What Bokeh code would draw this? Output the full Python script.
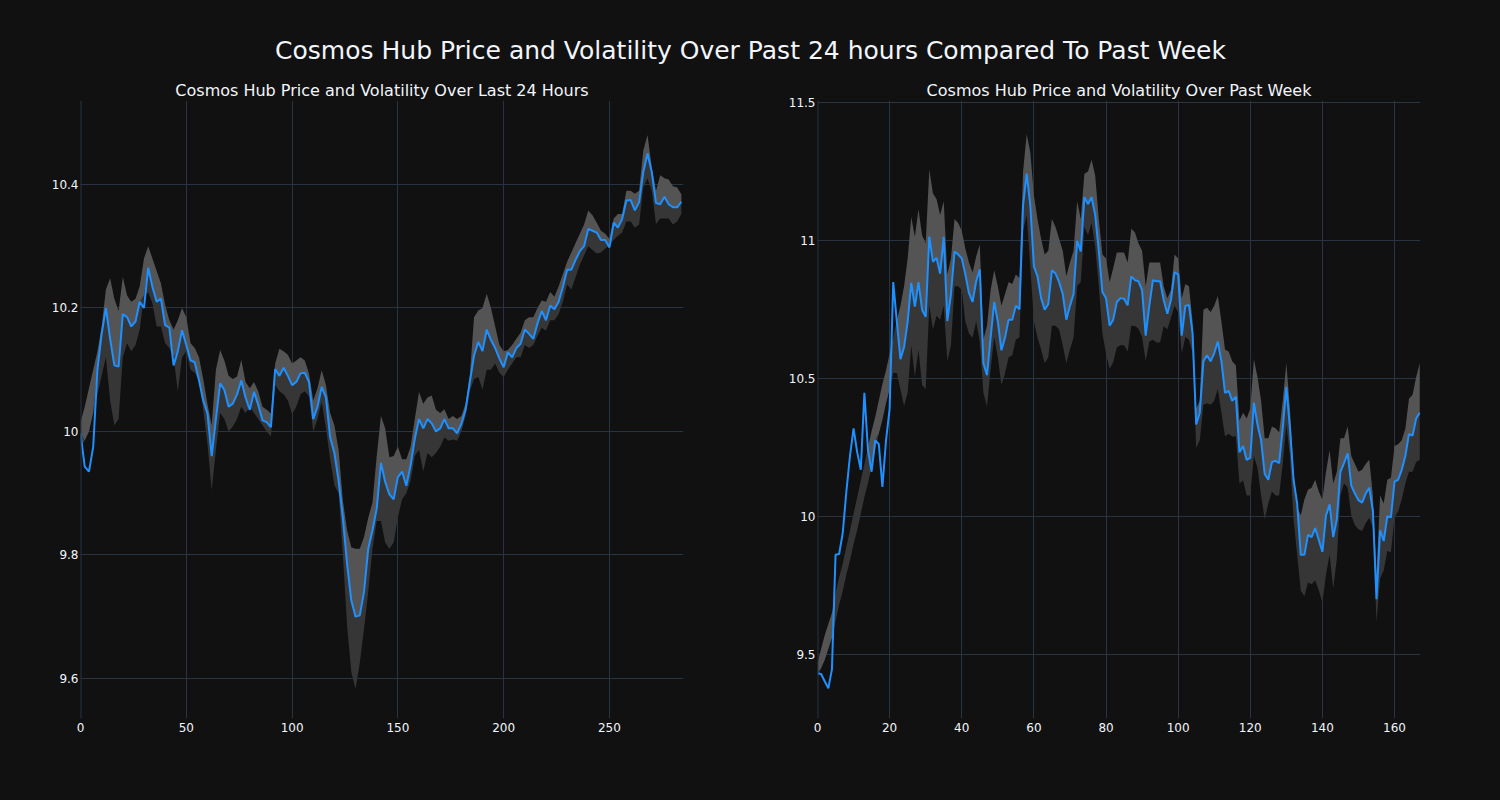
import numpy as np
from bokeh.plotting import figure
from bokeh.layouts import column, row
from bokeh.models import Range1d, FixedTicker, CustomJSTickFormatter, Span, Label, ColumnDataSource
from bokeh.embed import file_html
from bokeh.resources import INLINE

# ---------------- data ----------------
main_title = "Cosmos Hub Price and Volatility Over Past 24 hours Compared To Past Week"
left_title = "Cosmos Hub Price and Volatility Over Last 24 Hours"
right_title = "Cosmos Hub Price and Volatility Over Past Week"

left_x = [0, 2, 4, 6, 8, 10, 12, 14, 16, 18,
          20, 22, 24, 26, 28, 30, 32, 34, 36, 38,
          40, 42, 44, 46, 48, 50, 52, 54, 56, 58,
          60, 62, 64, 66, 68, 70, 72, 74, 76, 78,
          80, 82, 84, 86, 88, 90, 92, 94, 96, 98,
          100, 102, 104, 106, 108, 110, 112, 114, 116, 118,
          120, 122, 124, 126, 128, 130, 132, 134, 136, 138,
          140, 142, 144, 146, 148, 150, 152, 154, 156, 158,
          160, 162, 164, 166, 168, 170, 172, 174, 176, 178,
          180, 182, 184, 186, 188, 190, 192, 194, 196, 198,
          200, 202, 204, 206, 208, 210, 212, 214, 216, 218,
          220, 222, 224, 226, 228, 230, 232, 234, 236, 238,
          240, 242, 244, 246, 248, 250, 252, 254, 256, 258,
          260, 262, 264, 266, 268, 270, 272, 274, 276, 278,
          280, 282, 284]

left_price = [9.997, 9.943, 9.935, 9.975, 10.10, 10.158, 10.20, 10.15, 10.107, 10.105,
              10.19, 10.185, 10.17, 10.178, 10.21, 10.20, 10.265, 10.234, 10.21, 10.215,
              10.172, 10.168, 10.107, 10.13, 10.164, 10.14, 10.115, 10.112, 10.083, 10.05,
              10.029, 9.96, 10.02, 10.078, 10.067, 10.04, 10.045, 10.06, 10.083, 10.055,
              10.035, 10.064, 10.043, 10.018, 10.015, 10.007, 10.101, 10.09, 10.103, 10.09,
              10.075, 10.08, 10.094, 10.095, 10.08, 10.02, 10.04, 10.072, 10.055, 9.99,
              9.965, 9.92, 9.86, 9.785, 9.726, 9.70, 9.702, 9.74, 9.81, 9.84,
              9.875, 9.949, 9.918, 9.898, 9.89, 9.926, 9.935, 9.912, 9.945, 9.988,
              10.02, 10.005, 10.02, 10.013, 10.0, 10.005, 10.02, 10.005, 10.005, 9.997,
              10.012, 10.035, 10.08, 10.123, 10.145, 10.13, 10.165, 10.148, 10.135, 10.118,
              10.104, 10.128, 10.12, 10.135, 10.142, 10.165, 10.158, 10.15, 10.175, 10.195,
              10.18, 10.204, 10.198, 10.21, 10.234, 10.262, 10.262, 10.278, 10.292, 10.3,
              10.328, 10.325, 10.322, 10.31, 10.31, 10.298, 10.338, 10.33, 10.344, 10.374,
              10.375, 10.358, 10.371, 10.42, 10.45, 10.42, 10.37, 10.368, 10.38, 10.368,
              10.363, 10.363, 10.372]

left_upper = [10.015, 10.04, 10.07, 10.10, 10.13, 10.17, 10.23, 10.248, 10.215, 10.195,
              10.25, 10.22, 10.21, 10.215, 10.235, 10.28, 10.30, 10.28, 10.26, 10.24,
              10.205, 10.18, 10.165, 10.18, 10.2, 10.185, 10.143, 10.135, 10.12, 10.085,
              10.045, 10.01, 10.1, 10.132, 10.115, 10.09, 10.085, 10.089, 10.116, 10.08,
              10.07, 10.08, 10.065, 10.04, 10.035, 10.029, 10.11, 10.134, 10.13, 10.124,
              10.11, 10.115, 10.12, 10.115, 10.094, 10.05, 10.07, 10.099, 10.075, 10.03,
              10.01, 9.97, 9.888, 9.84, 9.812, 9.81, 9.81, 9.829, 9.86, 9.885,
              9.96, 10.025, 10.005, 9.958, 9.96, 9.975, 9.955, 9.955, 9.975, 10.02,
              10.064, 10.045, 10.055, 10.058, 10.035, 10.03, 10.036, 10.02, 10.025, 10.02,
              10.025, 10.045, 10.09, 10.185, 10.196, 10.2, 10.223, 10.2, 10.17, 10.14,
              10.13, 10.132, 10.14, 10.15, 10.16, 10.18, 10.185, 10.185, 10.2, 10.212,
              10.21, 10.226, 10.218, 10.235, 10.255, 10.275, 10.29, 10.305, 10.32, 10.335,
              10.358, 10.35, 10.338, 10.325, 10.32, 10.312, 10.345, 10.352, 10.352, 10.39,
              10.39, 10.385, 10.39, 10.455, 10.48, 10.428, 10.39, 10.415, 10.41, 10.408,
              10.397, 10.395, 10.384]

left_lower = [9.975, 9.985, 10.0, 10.03, 10.06, 10.09, 10.12, 10.05, 10.01, 10.02,
              10.12, 10.143, 10.13, 10.14, 10.165, 10.22, 10.225, 10.207, 10.17, 10.17,
              10.143, 10.135, 10.12, 10.065, 10.12, 10.13, 10.1, 10.095, 10.083, 10.035,
              9.98, 9.905, 9.97, 10.03, 10.02, 10.0, 10.008, 10.02, 10.04, 10.03,
              10.04, 10.03, 10.02, 10.01, 10.0, 9.992, 10.075, 10.065, 10.06, 10.05,
              10.028, 10.04, 10.06, 10.065, 10.057, 10.0, 10.02, 10.048, 10.005, 9.955,
              9.913, 9.9, 9.8, 9.685, 9.61, 9.583, 9.625, 9.68, 9.74, 9.81,
              9.855, 9.855, 9.82, 9.81, 9.82, 9.861, 9.89, 9.9, 9.92, 9.96,
              9.97, 9.935, 9.965, 9.958, 9.965, 9.975, 9.99, 9.985, 9.987, 9.985,
              10.0, 10.025, 10.065, 10.085, 10.088, 10.068, 10.1, 10.1, 10.11, 10.095,
              10.088, 10.1, 10.11, 10.12, 10.12, 10.14, 10.135, 10.14, 10.155, 10.168,
              10.163, 10.18, 10.18, 10.19, 10.21, 10.238, 10.23, 10.25, 10.27, 10.285,
              10.3, 10.294, 10.288, 10.29, 10.296, 10.302, 10.31, 10.317, 10.322, 10.34,
              10.34, 10.33, 10.335, 10.395, 10.41, 10.39, 10.336, 10.345, 10.345, 10.345,
              10.335, 10.34, 10.352]

right_x = [0, 1, 2, 3, 4, 5, 6, 7, 8, 9,
           10, 11, 12, 13, 14, 15, 16, 17, 18, 19,
           20, 21, 22, 23, 24, 25, 26, 27, 28, 29,
           30, 31, 32, 33, 34, 35, 36, 37, 38, 39,
           40, 41, 42, 43, 44, 45, 46, 47, 48, 49,
           50, 51, 52, 53, 54, 55, 56, 57, 58, 59,
           60, 61, 62, 63, 64, 65, 66, 67, 68, 69,
           70, 71, 72, 73, 74, 75, 76, 77, 78, 79,
           80, 81, 82, 83, 84, 85, 86, 87, 88, 89,
           90, 91, 92, 93, 94, 95, 96, 97, 98, 99,
           100, 101, 102, 103, 104, 105, 106, 107, 108, 109,
           110, 111, 112, 113, 114, 115, 116, 117, 118, 119,
           120, 121, 122, 123, 124, 125, 126, 127, 128, 129,
           130, 131, 132, 133, 134, 135, 136, 137, 138, 139,
           140, 141, 142, 143, 144, 145, 146, 147, 148, 149,
           150, 151, 152, 153, 154, 155, 156, 157, 158, 159,
           160, 161, 162, 163, 164, 165, 166, 167]

right_price = [9.432, 9.429, 9.403, 9.377, 9.446, 9.861, 9.864, 9.94, 10.09, 10.219,
               10.319, 10.233, 10.169, 10.448, 10.24, 10.162, 10.276, 10.262, 10.107, 10.276,
               10.39, 10.849, 10.706, 10.57, 10.613, 10.706, 10.846, 10.76, 10.849, 10.749,
               10.723, 11.014, 10.923, 10.937, 10.88, 11.013, 10.708, 10.805, 10.96, 10.949,
               10.935, 10.877, 10.809, 10.777, 10.852, 10.895, 10.555, 10.512, 10.648, 10.777,
               10.706, 10.602, 10.648, 10.713, 10.713, 10.763, 10.751, 11.128, 11.242, 11.128,
               10.906, 10.87, 10.791, 10.749, 10.77, 10.892, 10.88, 10.849, 10.806, 10.713,
               10.763, 10.806, 10.999, 10.96, 11.157, 11.132, 11.157, 11.092, 10.963, 10.813,
               10.791, 10.691, 10.713, 10.777, 10.791, 10.789, 10.765, 10.87, 10.856, 10.852,
               10.82, 10.655, 10.763, 10.856, 10.852, 10.852, 10.784, 10.734, 10.784, 10.884,
               10.877, 10.655, 10.763, 10.766, 10.663, 10.333, 10.376, 10.562, 10.584, 10.562,
               10.591, 10.634, 10.562, 10.448, 10.455, 10.419, 10.434, 10.233, 10.255, 10.205,
               10.212, 10.412, 10.333, 10.276, 10.154, 10.133, 10.197, 10.202, 10.193, 10.319,
               10.469, 10.319, 10.133, 10.047, 9.861, 9.861, 9.933, 9.925, 9.958, 9.915,
               9.872, 10.004, 10.044, 9.925, 9.99, 10.162, 10.193, 10.229, 10.112, 10.083,
               10.059, 10.05, 10.083, 10.104, 10.019, 9.70, 9.95, 9.911, 10.001, 9.997,
               10.126, 10.133, 10.169, 10.219, 10.298, 10.293, 10.355, 10.376]

right_upper = [9.47, 9.52, 9.57, 9.61, 9.65, 9.72, 9.78, 9.83, 9.89, 9.95,
               10.01, 10.07, 10.13, 10.19, 10.25, 10.31, 10.36, 10.42, 10.48, 10.53,
               10.59, 10.65, 10.71, 10.763, 10.834, 10.935, 11.085, 11.013, 11.113, 11.02,
               10.99, 11.257, 11.171, 11.15, 11.092, 11.142, 10.877, 10.935, 11.078, 11.063,
               11.035, 10.97, 10.92, 10.884, 10.942, 10.985, 10.641, 10.691, 10.82, 10.892,
               10.834, 10.763, 10.806, 10.849, 10.842, 10.877, 10.863, 11.25, 11.385, 11.32,
               11.164, 11.078, 11.006, 10.949, 10.963, 11.078, 11.049, 11.006, 10.963, 10.87,
               10.92, 10.963, 11.142, 11.078, 11.242, 11.25, 11.292, 11.235, 11.078, 10.949,
               10.935, 10.849, 10.9, 10.956, 10.956, 10.956, 10.92, 11.042, 11.03, 10.99,
               10.963, 10.834, 10.92, 10.92, 10.92, 10.92, 10.834, 10.791, 10.82, 10.949,
               10.935, 10.791, 10.842, 10.834, 10.706, 10.39, 10.419, 10.749, 10.756, 10.741,
               10.763, 10.799, 10.706, 10.605, 10.598, 10.562, 10.548, 10.348, 10.376, 10.355,
               10.391, 10.57, 10.505, 10.419, 10.283, 10.283, 10.326, 10.32, 10.305, 10.419,
               10.555, 10.39, 10.162, 10.033, 10.004, 10.061, 10.097, 10.104, 10.133, 10.09,
               10.061, 10.162, 10.24, 10.119, 10.162, 10.283, 10.283, 10.326, 10.219, 10.19,
               10.162, 10.169, 10.19, 10.205, 10.076, 9.79, 10.076, 10.047, 10.133, 10.14,
               10.255, 10.262, 10.276, 10.319, 10.426, 10.441, 10.505, 10.555]

right_lower = [9.42, 9.45, 9.48, 9.52, 9.56, 9.62, 9.68, 9.73, 9.79, 9.84,
               9.90, 9.95, 10.01, 10.07, 10.12, 10.18, 10.24, 10.30, 10.35, 10.41,
               10.46, 10.52, 10.52, 10.46, 10.40, 10.448, 10.62, 10.505, 10.605, 10.476,
               10.462, 10.763, 10.677, 10.727, 10.713, 10.763, 10.562, 10.62, 10.834, 10.834,
               10.82, 10.706, 10.663, 10.648, 10.706, 10.634, 10.448, 10.398, 10.534, 10.648,
               10.577, 10.476, 10.519, 10.577, 10.584, 10.641, 10.648, 11.035, 11.092, 10.906,
               10.706, 10.648, 10.605, 10.555, 10.577, 10.691, 10.691, 10.677, 10.62, 10.555,
               10.605, 10.648, 10.834, 10.849, 11.049, 11.02, 11.063, 10.977, 10.834, 10.663,
               10.591, 10.534, 10.56, 10.612, 10.62, 10.62, 10.598, 10.691, 10.69, 10.68,
               10.65, 10.562, 10.634, 10.64, 10.63, 10.63, 10.69, 10.677, 10.72, 10.763,
               10.74, 10.591, 10.65, 10.64, 10.591, 10.248, 10.276, 10.405, 10.41, 10.405,
               10.419, 10.462, 10.376, 10.29, 10.3, 10.29, 10.29, 10.119, 10.13, 10.076,
               10.076, 10.219, 10.176, 10.076, 9.99, 10.047, 10.09, 10.076, 10.076, 10.19,
               10.333, 10.219, 9.99, 9.861, 9.732, 9.711, 9.761, 9.754, 9.768, 9.732,
               9.689, 9.79, 9.861, 9.739, 9.847, 10.076, 10.119, 10.105, 10.004, 9.968,
               9.954, 9.947, 9.975, 9.995, 9.96, 9.618, 9.775, 9.804, 9.875, 9.87,
               9.997, 10.018, 10.061, 10.119, 10.162, 10.162, 10.197, 10.205]

left_xticks = [0, 50, 100, 150, 200, 250]
left_yticks = [9.6, 9.8, 10.0, 10.2, 10.4]
right_xticks = [0, 20, 40, 60, 80, 100, 120, 140, 160]
right_yticks = [9.5, 10.0, 10.5, 11.0, 11.5]

# ---------------- style ----------------
BG = "#111111"
GRID = "#283442"
TXT = "#f2f5fa"
FONT = "DejaVu Sans"
LINE = "#1e90ff"
LIGHT = "#545454"
DARK = "#363636"

fmt_code = "return (Math.round(tick * 1000) / 1000).toString();"


def make_panel(title, xs, price, upper, lower, xr, yr, xticks, yticks, ml, mr):
    p = figure(width=750, height=727, x_range=Range1d(*xr), y_range=Range1d(*yr),
               output_backend="svg", toolbar_location=None,
               min_border_left=ml, min_border_right=mr,
               min_border_top=27, min_border_bottom=82)
    p.background_fill_color = BG
    p.border_fill_color = BG
    p.outline_line_color = None

    p.title.text = title
    p.title.align = "center"
    p.title.text_font = FONT
    p.title.text_font_size = "16px"
    p.title.text_font_style = "normal"
    p.title.text_color = TXT
    p.title.standoff = 2

    P = np.array(price)
    U = np.array(upper)
    L = np.array(lower)
    mid = np.minimum(np.maximum(P, L), U)
    src = ColumnDataSource(dict(x=xs, price=P, upper=U, lower=L, mid=mid))

    p.varea(x="x", y1="lower", y2="mid", source=src, fill_color=DARK, fill_alpha=1.0)
    p.varea(x="x", y1="mid", y2="upper", source=src, fill_color=LIGHT, fill_alpha=1.0)
    p.line(x="x", y="price", source=src, line_color=LINE, line_width=2)

    p.xaxis.ticker = FixedTicker(ticks=xticks)
    p.yaxis.ticker = FixedTicker(ticks=yticks)
    for ax in (p.xaxis, p.yaxis):
        ax.formatter = CustomJSTickFormatter(code=fmt_code)
        ax.axis_line_color = None
        ax.major_tick_line_color = None
        ax.minor_tick_line_color = None
        ax.major_tick_out = 0
        ax.major_tick_in = 0
        ax.major_label_text_font = FONT
        ax.major_label_text_font_size = "12px"
        ax.major_label_text_color = TXT
    p.xaxis.major_label_standoff = 4
    p.yaxis.major_label_standoff = 2

    p.xgrid.ticker = FixedTicker(ticks=xticks)
    p.ygrid.ticker = FixedTicker(ticks=yticks)
    p.grid.grid_line_color = GRID
    p.grid.grid_line_width = 1

    p.add_layout(Span(location=0, dimension="height", line_color=GRID, line_width=2))
    return p


p1 = make_panel(left_title, left_x, left_price, left_upper, left_lower,
                (0, 285), (9.535, 10.536), left_xticks, left_yticks, 80, 67)
p2 = make_panel(right_title, right_x, right_price, right_upper, right_lower,
                (0, 167.2), (9.268, 11.507), right_xticks, right_yticks, 67, 80)

head = figure(width=1500, height=73, x_range=Range1d(0, 1500), y_range=Range1d(0, 73),
              output_backend="svg", toolbar_location=None, min_border=0)
head.background_fill_color = BG
head.border_fill_color = BG
head.outline_line_color = None
head.axis.visible = False
head.grid.visible = False
head.add_layout(Label(x=750, y=23, text=main_title, text_align="center", text_baseline="middle",
                      text_font=FONT, text_font_size="25px", text_color=TXT))

layout = column(head, row(p1, p2, spacing=0), spacing=0)
layout.styles = {"background-color": BG}

html = file_html(layout, INLINE, title="Cosmos Hub Price and Volatility")
html = html.replace("</head>",
                    "<style>html, body { background-color: #111111 !important; }</style></head>", 1)
open("out.html", "w").write(html)
